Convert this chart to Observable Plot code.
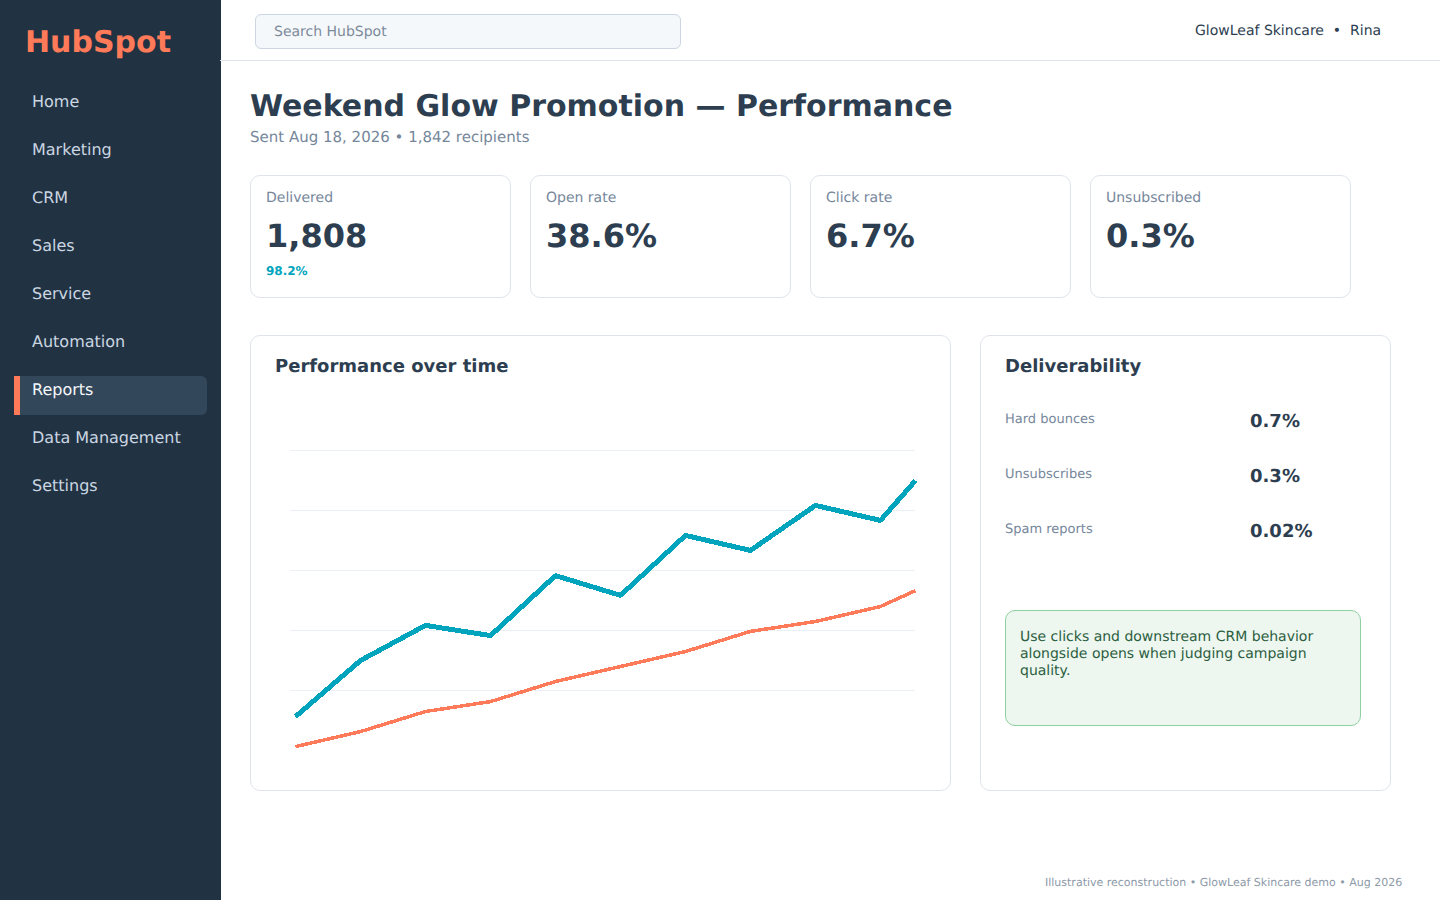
<!DOCTYPE html>
<html><head><meta charset="utf-8">
<script src="https://cdn.jsdelivr.net/npm/d3@7"></script>
<script src="https://cdn.jsdelivr.net/npm/@observablehq/plot@0.6"></script>
<style>
html,body{margin:0;padding:0;background:#fff;width:1440px;height:900px;overflow:hidden;font-family:"DejaVu Sans",sans-serif;text-rendering:geometricPrecision;}
.a{position:absolute;white-space:nowrap;line-height:1;}
.s{position:absolute;}
.box{position:absolute;box-sizing:border-box;background:#fff;border:1px solid #dfe3eb;border-radius:10px;}
</style></head><body>
<div id="root"></div>
<script>
const navItems = ["Home","Marketing","CRM","Sales","Service","Automation","Reports","Data Management","Settings"];
const kpiLabels = ["Delivered","Open rate","Click rate","Unsubscribed"];
const kpiValues = ["1,808","38.6%","6.7%","0.3%"];
const delivLabels = ["Hard bounces","Unsubscribes","Spam reports"];
const delivValues = ["0.7%","0.3%","0.02%"];
const xSteps = [0,1,2,3,4,5,6,7,8,9,9.5385];
const openSeries = [11.3,30,41.7,38.3,58.3,51.7,71.7,66.7,81.7,76.7,90];
const clickSeries = [1.3,6.3,13,16.3,23,28,33,39.7,43,48,53.3];
const gridValues = [20,40,60,80,100];

const root = document.getElementById("root");
function el(css, text, cls){const d=document.createElement("div");d.className=cls||"a";d.style.cssText=css;if(text!=null)d.textContent=text;root.appendChild(d);return d;}

// sidebar
el("left:0;top:0;width:221px;height:900px;background:#213343;","","s");
el("left:25px;top:28px;font-size:30px;font-weight:700;color:#ff7a59;","HubSpot");
el("left:14px;top:376px;width:193px;height:39px;background:#33475b;border-radius:0 6px 6px 0;","","s");
el("left:14px;top:376px;width:6px;height:39px;background:#ff7a59;","","s");
navItems.forEach((n,i)=>el(`left:32px;top:${94+48*i}px;font-size:16px;color:${n==="Reports"?"#f5f8fa":"#cbd6e2"};`,n));

// header
el("left:220px;top:60px;width:1220px;height:1px;background:#dfe3eb;","","s");
el("left:255px;top:14px;width:426px;height:35px;background:#f5f8fa;border:1px solid #cbd6e2;border-radius:6px;","","box");
el("left:274px;top:25px;font-size:14px;color:#7c8a9a;","Search HubSpot");
el("left:1195px;top:24px;font-size:14px;color:#2d3e50;white-space:pre;","GlowLeaf Skincare  •  Rina");

// title
el("left:250px;top:92px;font-size:30px;font-weight:700;color:#2d3e50;","Weekend Glow Promotion — Performance");
el("left:250px;top:130px;font-size:15px;color:#76879b;","Sent Aug 18, 2026 • 1,842 recipients");

// KPI cards
kpiLabels.forEach((l,i)=>{
  const x=250+280*i;
  el(`left:${x}px;top:175px;width:261px;height:123px;`,"","box");
  el(`left:${x+16}px;top:191px;font-size:14px;color:#76879b;`,l);
  el(`left:${x+16}px;top:220px;font-size:32px;font-weight:700;color:#2d3e50;`,kpiValues[i]);
});
el("left:266px;top:265px;font-size:12px;font-weight:700;color:#00a4bd;","98.2%");

// panels
el("left:250px;top:335px;width:701px;height:456px;","","box");
el("left:980px;top:335px;width:411px;height:456px;","","box");
el("left:275px;top:358px;font-size:18px;font-weight:700;color:#2d3e50;","Performance over time");
el("left:1005px;top:358px;font-size:18px;font-weight:700;color:#2d3e50;","Deliverability");
delivLabels.forEach((l,i)=>{
  el(`left:1005px;top:${413+55*i}px;font-size:13px;color:#76879b;`,l);
  el(`left:1250px;top:${413+55*i}px;font-size:18px;font-weight:700;color:#2d3e50;`,delivValues[i]);
});
el("left:1005px;top:610px;width:356px;height:116px;background:#edf7f0;border:1px solid #8fd0a0;border-radius:10px;","","box");
el("left:1020px;top:629px;width:320px;font-size:14px;line-height:17px;color:#2c5e3f;white-space:normal;","Use clicks and downstream CRM behavior alongside opens when judging campaign quality.");
el("left:1045px;top:877px;font-size:11px;color:#8d9aa8;","Illustrative reconstruction • GlowLeaf Skincare demo • Aug 2026");

// chart
const openRows = xSteps.map((x,i)=>({x,v:openSeries[i]}));
const clickRows = xSteps.map((x,i)=>({x,v:clickSeries[i]}));
const chart = Plot.plot({
  width:700,height:390,
  marginLeft:40,marginRight:35,marginTop:50,marginBottom:40,
  x:{domain:[-0.0769,9.5385],axis:null},
  y:{domain:[0,100],axis:null},
  marks:[
    Plot.ruleY(gridValues,{stroke:"#eaf0f6",strokeWidth:1}),
    Plot.line(clickRows,{x:"x",y:"v",stroke:"#ff7a59",strokeWidth:3.5,curve:"linear",strokeLinecap:"butt",strokeLinejoin:"miter",shapeRendering:"crispEdges"}),
    Plot.line(openRows,{x:"x",y:"v",stroke:"#00a4bd",strokeWidth:5,curve:"linear",strokeLinecap:"butt",strokeLinejoin:"miter",shapeRendering:"crispEdges"})
  ]
});
chart.style.position="absolute";chart.style.left="250px";chart.style.top="400px";chart.style.background="transparent";
root.appendChild(chart);
</script>
</body></html>
